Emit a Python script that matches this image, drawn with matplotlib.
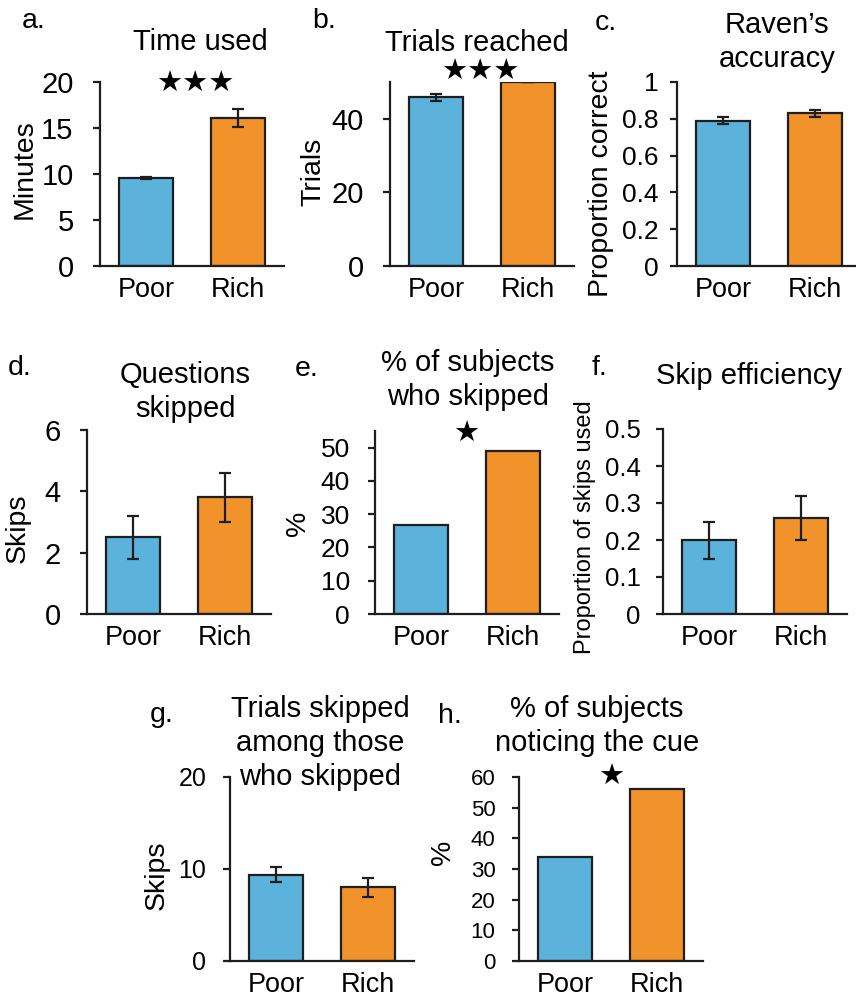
import numpy as np
import matplotlib
matplotlib.use('Agg')
import matplotlib.pyplot as plt

plt.rcParams['font.family'] = ['Liberation Sans', 'DejaVu Sans']

W, H = 856, 999

groups = ['Poor', 'Rich']
blue = '#5BB3DB'
orange = '#F1922B'
edge = '#1E1E1E'

# panel values (mean, error)
time_used = [9.6, 16.1]
time_err = [0.1, 1.0]
trials = [45.8, 49.9]
trials_err = [1.0, 0.0]
raven = [0.79, 0.83]
raven_err = [0.02, 0.02]
skips = [2.5, 3.8]
skips_err = [0.7, 0.8]
pct_skipped = [26.7, 49.0]
skip_eff = [0.20, 0.26]
skip_eff_err = [0.05, 0.06]
skips_among = [9.4, 8.0]
skips_among_err = [0.8, 1.0]
pct_cue = [34.0, 56.0]

# letter, title, ylabel, values, errors, yticks, ytick labels, ymax, stars
panels = [
    ('a.', 'Time used', 'Minutes', time_used, time_err,
     [0, 5, 10, 15, 20], None, 20, '★★★'),
    ('b.', 'Trials reached', 'Trials', trials, trials_err,
     [0, 20, 40], None, 50, '★★★'),
    ('c.', 'Raven’s\naccuracy', 'Proportion correct', raven, raven_err,
     [0, 0.2, 0.4, 0.6, 0.8, 1], ['0', '0.2', '0.4', '0.6', '0.8', '1'], 1, ''),
    ('d.', 'Questions\nskipped', 'Skips', skips, skips_err,
     [0, 2, 4, 6], None, 6, ''),
    ('e.', '% of subjects\nwho skipped', '%', pct_skipped, None,
     [0, 10, 20, 30, 40, 50], None, 55, '★'),
    ('f.', 'Skip efficiency', 'Proportion of skips used', skip_eff, skip_eff_err,
     [0, 0.1, 0.2, 0.3, 0.4, 0.5], ['0', '0.1', '0.2', '0.3', '0.4', '0.5'], 0.5, ''),
    ('g.', 'Trials skipped\namong those\nwho skipped', 'Skips', skips_among, skips_among_err,
     [0, 10, 20], None, 20, ''),
    ('h.', '% of subjects\nnoticing the cue', '%', pct_cue, None,
     [0, 10, 20, 30, 40, 50, 60], None, 60, '★'),
]

# layout in pixels: axes (left, top, baseline), letter (x, baseline), title (x, first baseline),
# ylabel centre, star (x, baseline), tick size / pad, ylabel size
layout = [
    dict(ax=(100, 82, 266), let=(22, 28), tit=(200, 50), yl=(25, 169), star=(195, 92), ts=21, tp=14, ys=20.5),
    dict(ax=(390, 82, 266), let=(312, 28), tit=(477, 51), yl=(313, 172), star=(480, 80), ts=21, tp=14, ys=20.5),
    dict(ax=(677, 82, 266), let=(595, 30), tit=(777, 33), yl=(601, 184), star=None, ts=19, tp=8, ys=20.5),
    dict(ax=(87, 430, 614), let=(8, 375), tit=(185, 383), yl=(18, 528), star=None, ts=21, tp=14, ys=20.5),
    dict(ax=(375, 431, 614), let=(295, 376), tit=(468, 371), yl=(298, 523), star=(466, 442), ts=19, tp=13, ys=20.5),
    dict(ax=(663, 429, 614), let=(592, 375), tit=(749, 384), yl=(585, 527), star=None, ts=18.5, tp=11, ys=17),
    dict(ax=(230, 777, 961), let=(150, 722), tit=(320, 717), yl=(157, 875), star=None, ts=18, tp=12, ys=20.5),
    dict(ax=(519, 777, 961), let=(438, 723), tit=(597, 717), yl=(443, 852), star=(611, 785), ts=16, tp=12, ys=20.5),
]

fig = plt.figure(figsize=(W / 100, H / 100), dpi=100)


def fx(x):
    return x / W


def fy(y):
    return 1 - y / H


x = np.arange(len(groups))
for (letter, title, ylabel, vals, errs, yt, ytl, ymax, star), lay in zip(panels, layout):
    left, top, base = lay['ax']
    ax = fig.add_axes([fx(left), fy(base), 184 / W, (base - top) / H])
    ax.bar(x, vals, width=0.59, color=[blue, orange], edgecolor=edge, linewidth=1.6, zorder=2)
    if errs is not None:
        ax.errorbar(x, vals, yerr=errs, fmt='none', ecolor=edge, elinewidth=1.6,
                    capsize=4.3, capthick=1.6, zorder=3)
    ax.set_xlim(-0.5, 1.5)
    ax.set_ylim(0, ymax)
    ax.set_yticks(yt)
    if ytl is not None:
        ax.set_yticklabels(ytl)
    ax.set_xticks(x)
    ax.set_xticklabels(groups)
    for s in ['top', 'right']:
        ax.spines[s].set_visible(False)
    for s in ['left', 'bottom']:
        ax.spines[s].set_linewidth(1.6)
        ax.spines[s].set_color(edge)
    ax.tick_params(axis='y', length=5, width=1.6, color=edge, pad=lay['tp'], labelsize=lay['ts'])
    ax.tick_params(axis='x', length=0, pad=8, labelsize=19.5)
    ax.patch.set_alpha(0)

    fig.text(fx(lay['let'][0]), fy(lay['let'][1]), letter, fontsize=20.5, ha='left', va='baseline')
    for i, line in enumerate(title.split('\n')):
        fig.text(fx(lay['tit'][0]), fy(lay['tit'][1] + i * 34), line, fontsize=21,
                 ha='center', va='baseline')
    fig.text(fx(lay['yl'][0]), fy(lay['yl'][1]), ylabel, fontsize=lay['ys'], rotation=90,
             ha='center', va='center')
    if star:
        fig.text(fx(lay['star'][0]), fy(lay['star'][1]), star, fontsize=21,
                 family='DejaVu Sans', ha='center', va='baseline')

fig.savefig('out.png', dpi=100)
